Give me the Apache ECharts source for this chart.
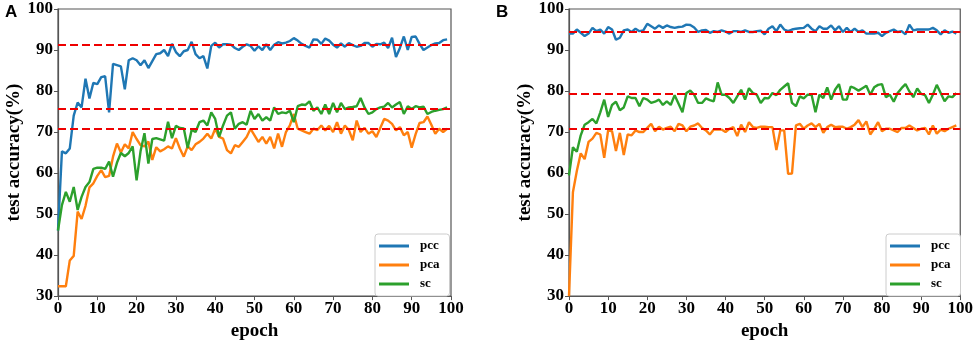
<!DOCTYPE html>
<html>
<head>
<meta charset="utf-8">
<script src="https://cdn.jsdelivr.net/npm/echarts@6/dist/echarts.min.js"></script>
<style>
  html, body { margin: 0; padding: 0; background: #fff; }
  #chart { width: 976px; height: 346px; }
</style>
</head>
<body>
<div id="chart"></div>
<script>
// panel A
const pccA = [46, 65.3, 64.8, 66, 74, 77.2, 76, 83, 78.2, 82, 81.7, 83.4, 83.6, 74.8, 86.6, 86.3, 86, 80.4, 87.5, 88,
  87.5, 86.3, 87.5, 85.6, 87.3, 89, 89.2, 90, 88.5, 91.5, 89.5, 88.5, 89.7, 90, 92, 89, 88, 88.5, 85.5, 91,
  91.8, 90.6, 91.4, 91.4, 91.3, 90.5, 90, 90.8, 91.4, 91, 89.8, 90.9, 90, 91.4, 90, 91.3, 91.9, 91.6, 91.8, 92.2,
  92.9, 92.3, 91.5, 91, 90.6, 92.6, 92.5, 91.5, 92.8, 92.3, 91.3, 90.6, 91.6, 90.8, 91.7, 91.2, 90.8, 91, 91.7, 91.7,
  90.8, 91.5, 91.4, 91.8, 90.5, 93, 88.3, 90.5, 93.3, 90, 93.2, 93.3, 91.5, 90, 90.6, 91.2, 91.6, 91.7, 92.4, 92.6];
const pcaA = [32.4, 32.4, 32.4, 38.7, 39.8, 50.6, 48.8, 52, 56.5, 57.5, 59.3, 60.7, 59, 59.3, 64, 67.2, 65, 67, 66, 70,
  68.3, 66.8, 66.5, 67.7, 63.2, 66.3, 65.3, 65.8, 66.5, 66, 68.5, 66, 64, 66.5, 65.6, 67, 67.6, 68.4, 69.6, 68.4,
  70.8, 68.8, 68.4, 65.6, 64.8, 66.8, 66.4, 67.6, 68.8, 70.8, 69.2, 67.6, 68.8, 67.2, 68.8, 66, 69.6, 66.4, 70, 71.6,
  74.4, 70.8, 70.4, 70, 69.6, 70.8, 70.5, 71.6, 70.4, 71.5, 70, 72.4, 69.6, 71.6, 70.5, 68, 72.8, 70, 71, 69.6,
  70.2, 68.8, 71, 73.2, 72.8, 72, 70.4, 71.2, 69.2, 70, 66.2, 69.5, 72.2, 72.4, 73.8, 71.8, 69.6, 70.8, 70, 70.8];
const scA = [46, 52.2, 55.4, 53, 56.6, 51, 54.2, 56.6, 57.8, 61, 61.3, 61.3, 61, 62.8, 59.1, 62.5, 64.9, 64.1, 64.9, 66.5,
  58.2, 65.3, 69.7, 62.3, 68.3, 68.5, 68.2, 67.9, 72.5, 68.5, 71.5, 71, 70.9, 66.1, 70.5, 70, 72.4, 72.8, 71.6, 74.8,
  73.2, 68.8, 71.6, 74, 74.8, 70.8, 72, 72.4, 71.8, 75.2, 73.2, 74.4, 72.8, 73.6, 72.8, 76, 74.4, 74.8, 74.6, 75.2,
  72.4, 76.3, 76.7, 76.6, 77.5, 75.2, 76, 74.4, 76.7, 74.4, 77.1, 74.8, 77.1, 75.6, 76, 76.1, 76.3, 78.3, 76, 74.4,
  74.8, 75.6, 76, 76.2, 77.1, 76, 76.7, 77.3, 74.4, 76.3, 75.6, 76.3, 76, 76.2, 74.4, 74.9, 75.2, 75.4, 75.6, 76];
const refA = { pcc: 91.3, pca: 70.7, sc: 75.7 };

// panel B
const pccB = [94, 94, 95, 94.2, 93.4, 94, 95.4, 94.6, 95, 94, 95.6, 95, 92.5, 93, 94.8, 95, 94.4, 95.2, 94.6, 94.8,
  96.4, 95.8, 95.2, 96, 95.4, 96, 95.6, 95.4, 95.6, 95.7, 96.2, 96.1, 95.5, 94.4, 94.8, 94.9, 94.2, 94.6, 94.4, 94.8,
  94.5, 94, 94.6, 94.6, 94.4, 94.8, 94.4, 94.4, 94.6, 94.7, 93.8, 95.2, 95.8, 94.6, 96.2, 95, 94.6, 95, 95.2, 95.3,
  95.4, 96.2, 95.2, 94.6, 95.8, 95.2, 95.2, 96, 94.8, 95.8, 94.4, 95.4, 94.4, 95.2, 94.4, 94.8, 94, 94, 94, 94.2,
  93.4, 94.2, 94.6, 95, 94.4, 94.6, 93.8, 96.2, 94.8, 95, 95, 95, 95, 95.4, 94.8, 93.8, 94.8, 94.2, 94.5, 94];
const pcaB = [30, 55.3, 60.5, 64.8, 63.4, 67.6, 68.4, 69.8, 69.4, 63.7, 70.4, 70.2, 65.4, 69.8, 64.4, 69.4, 69.2, 70.4, 70, 70,
  71, 72, 70.2, 71.3, 70.6, 71, 71.3, 70.2, 72, 71.6, 70.2, 71.3, 71.6, 72.1, 71, 70.4, 69.4, 70.6, 70.6, 70.6,
  70, 70.8, 71.2, 69, 71.8, 70, 72.4, 71.2, 71, 71.3, 71.3, 71.2, 71.2, 65.6, 70.4, 70.4, 59.8, 59.9, 71.6, 72,
  70.8, 71.6, 72.1, 71.2, 72, 69.8, 71.2, 71.8, 71.2, 71.3, 71.3, 70.8, 71.2, 71.8, 72.9, 71.2, 72.6, 69.4, 70.8, 72.4,
  70.2, 70.8, 70.8, 70.4, 70, 71, 71, 71.6, 71, 70.4, 70.8, 71, 69.4, 71.6, 69.6, 70.6, 70.2, 70.8, 71.2, 71.6];
const scB = [59.4, 66.3, 65.2, 69.2, 71.8, 72.4, 73.2, 72.1, 74.8, 77.9, 73.7, 76.6, 77.4, 75.3, 76, 78.7, 78.3, 78.3, 76.3, 78.3,
  77.9, 77.1, 77.4, 77.9, 76.6, 77.5, 76.6, 79, 76.9, 74.8, 79.5, 80.1, 79.1, 77.1, 77.1, 78.2, 77.8, 77.5, 82.1, 79.1,
  79.1, 78.3, 77.1, 78.7, 80.3, 77.9, 80.7, 79.5, 79.1, 77.1, 78.3, 78.2, 79.5, 79, 80.3, 81.1, 81.9, 77.1, 76.3, 78.7,
  78.2, 79.1, 79.1, 74.8, 79.1, 78.3, 80.9, 77.9, 80.3, 81.7, 77.9, 77.9, 81.1, 80.7, 80.1, 80.7, 81.3, 79.1, 80.9, 81.5,
  81.7, 78.5, 79.1, 77.4, 79.5, 80.7, 81.7, 79.9, 78.5, 80.6, 79.3, 79, 77.1, 79.1, 81.5, 79.5, 77.5, 78.7, 78.5, 79.5];
const refB = { pcc: 94.5, pca: 70.8, sc: 79.4 };

const seriesNames = ['pcc', 'pca', 'sc'];
const colors = ['#1f77b4', '#ff7f0e', '#2ca02c'];
const xTicks = [0, 100, 10];
const yTicks = [30, 100, 10];

const serif = 'Liberation Serif';

function pairs(arr) {
    return arr.map((v, i) => [i, v]);
}

function makeAxes(idx) {
    const x = {
        type: 'value', gridIndex: idx, min: xTicks[0], max: xTicks[1], interval: xTicks[2],
        name: 'epoch', nameLocation: 'middle', nameGap: 22,
        nameTextStyle: {fontFamily: serif, fontWeight: 'bold', fontSize: 19, color: '#000'},
        axisLine: {lineStyle: {color: '#555', width: 1.2}},
        axisTick: {show: true, length: 4, lineStyle: {color: '#555'}},
        axisLabel: {fontFamily: serif, fontWeight: 'bold', fontSize: 17, color: '#000', margin: 4},
        splitLine: {show: false}
    };
    const y = {
        type: 'value', gridIndex: idx, min: yTicks[0], max: yTicks[1], interval: yTicks[2],
        name: 'test accuracy(%)', nameLocation: 'middle', nameGap: 33,
        nameTextStyle: {fontFamily: serif, fontWeight: 'bold', fontSize: 19, color: '#000'},
        axisLine: {show: true, lineStyle: {color: '#555', width: 1.2}},
        axisTick: {show: true, length: 4, lineStyle: {color: '#555'}},
        axisLabel: {fontFamily: serif, fontWeight: 'bold', fontSize: 17, color: '#000', margin: 5},
        splitLine: {show: false}
    };
    return [x, y];
}

function makeSeries(idx, data, refs) {
    return data.map((arr, k) => ({
        name: seriesNames[k],
        type: 'line',
        xAxisIndex: idx,
        yAxisIndex: idx,
        data: pairs(arr),
        symbol: 'none',
        color: colors[k],
        lineStyle: {width: 2.4, color: colors[k]},
        z: 2,
        animation: false,
        markLine: {
            silent: true,
            symbol: ['none', 'none'],
            label: {show: false},
            lineStyle: {color: '#ee0000', type: [8, 4], width: 1.8},
            data: [{yAxis: refs[seriesNames[k]]}],
            z: 5
        }
    }));
}

function makeLegend(left) {
    return {
        data: seriesNames,
        orient: 'vertical',
        left: left, top: 234,
        icon: 'rect',
        itemWidth: 30, itemHeight: 3,
        itemGap: 5,
        padding: [5, 10, 5, 4],
        borderColor: '#ccc', borderWidth: 1, borderRadius: 3,
        backgroundColor: '#fff',
        selectedMode: false,
        textStyle: {fontFamily: serif, fontWeight: 'bold', fontSize: 13, color: '#000', lineHeight: 14, padding: [0, 0, 0, 6]}
    };
}

const axA = makeAxes(0);
const axB = makeAxes(1);

const chart = echarts.init(document.getElementById('chart'), null, {renderer: 'canvas'});
chart.setOption({
    animation: false,
    backgroundColor: '#fff',
    grid: [
        {left: 58, right: 525, top: 9, bottom: 43, show: true, borderColor: '#555', borderWidth: 1.2},
        {left: 569, right: 14, top: 9, bottom: 43, show: true, borderColor: '#555', borderWidth: 1.2}
    ],
    xAxis: [axA[0], axB[0]],
    yAxis: [axA[1], axB[1]],
    legend: [makeLegend(375), makeLegend(886)],
    graphic: [
        {type: 'text', left: 5, top: 4, style: {text: 'A', fontFamily: 'Liberation Sans', fontWeight: 'bold', fontSize: 17, fill: '#000'}},
        {type: 'text', left: 496, top: 4, style: {text: 'B', fontFamily: 'Liberation Sans', fontWeight: 'bold', fontSize: 17, fill: '#000'}}
    ],
    series: [
        ...makeSeries(0, [pccA, pcaA, scA], refA),
        ...makeSeries(1, [pccB, pcaB, scB], refB)
    ]
});
</script>
</body>
</html>
